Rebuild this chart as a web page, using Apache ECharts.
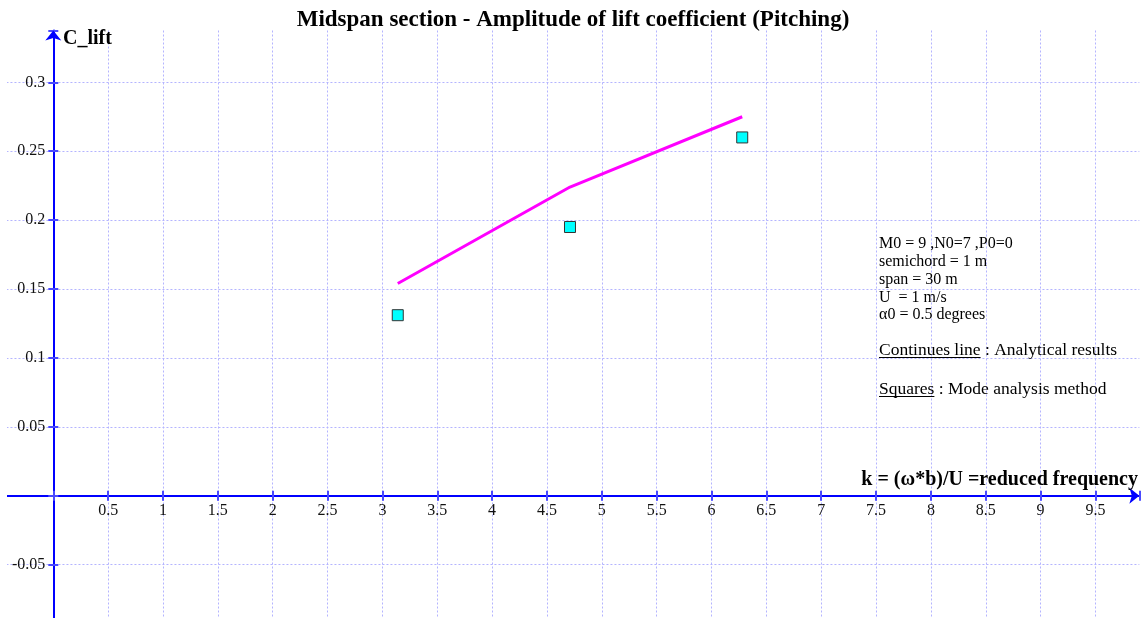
<!DOCTYPE html>
<html><head><meta charset="utf-8">
<script src="https://cdn.jsdelivr.net/npm/echarts@6/dist/echarts.min.js"></script>
<style>html,body{margin:0;padding:0;background:#fff}#c{width:1146px;height:618px}</style>
</head><body><div id="c"></div>
<script>
const titleText = 'Midspan section - Amplitude of lift coefficient (Pitching)';
const xName = 'k = (ω*b)/U =reduced frequency';
const yName = 'C_lift';
const lineK = [3.14, 4.71, 6.28];
const lineCl = [0.154, 0.224, 0.275];
const squareK = [3.14, 4.71, 6.28];
const squareCl = [0.131, 0.195, 0.26];
const infoLines = ['M0 = 9 ,N0=7 ,P0=0', 'semichord = 1 m', 'span = 30 m', 'U  = 1 m/s', 'α0 = 0.5 degrees'];
const legendLine = ['Continues line', ' : Analytical results'];
const legendSquare = ['Squares', ' : Mode analysis method'];

const SERIF = '"Liberation Serif", "Times New Roman", serif';
const chart = echarts.init(document.getElementById('c'), null, {renderer: 'canvas'});

const LEG_FONT = '17.5px ' + SERIF;
const ctx = document.createElement('canvas').getContext('2d');
ctx.font = LEG_FONT;
const wLine = ctx.measureText(legendLine[0]).width;
const wSq = ctx.measureText(legendSquare[0]).width;

const gridColor = '#b4b4ff';
const axisBlue = '#0000ff';
const tickBlue = '#4a4aff';

// grid geometry: x from -0.5 .. 9.9, y from -0.1 .. 0.3376
const G = {left: -1.55, top: 30.5, width: 1140.9, height: 603};
const X_OFF = -(G.top + G.height - 495.7);   // move x axis up to y = 0
const Y_OFF = -(53.3 - G.left);              // move y axis right to x = 0

const xBase = {type: 'value', min: -0.5, max: 9.9, interval: 0.5, gridIndex: 0, position: 'bottom', offset: X_OFF};
const yBase = {type: 'value', min: -0.1, max: 0.3376, interval: 0.05, gridIndex: 0, position: 'left', offset: Y_OFF};

const labelStyle = {fontFamily: SERIF, fontSize: 16, color: '#111'};

const graphics = [
  {type: 'rect', shape: {x: 0, y: 0, width: 7, height: 618}, style: {fill: '#fff'}, z: 10},
  {type: 'text', x: 63, y: 39, z: 20, style: {text: yName, font: 'bold 20px ' + SERIF, fill: '#000', verticalAlign: 'middle'}},
  {type: 'text', x: 1138, y: 480, z: 20, style: {text: xName, font: 'bold 20px ' + SERIF, fill: '#000', align: 'right', verticalAlign: 'middle'}}
];
const infoY = [244, 262, 280, 297.5, 315];
infoLines.forEach((t, i) => {
  graphics.push({type: 'text', x: 879, y: infoY[i], z: 20, style: {text: t, font: '16px ' + SERIF, fill: '#000', verticalAlign: 'middle'}});
});
[[legendLine, wLine, 350], [legendSquare, wSq, 389]].forEach(([parts, w, y]) => {
  graphics.push({type: 'text', x: 879, y: y, z: 20, style: {text: parts[0], font: LEG_FONT, fill: '#000', verticalAlign: 'middle'}});
  graphics.push({type: 'text', x: 879 + w, y: y, z: 20, style: {text: parts[1], font: LEG_FONT, fill: '#000', verticalAlign: 'middle'}});
  graphics.push({type: 'line', z: 20, shape: {x1: 879, y1: y + 7.5, x2: 879 + w, y2: y + 7.5}, style: {stroke: '#000', lineWidth: 1}});
});

const option = {
  animation: false,
  backgroundColor: '#fff',
  title: {text: titleText, left: 'center', top: 9, padding: 0,
    textStyle: {fontFamily: SERIF, fontSize: 23, fontWeight: 'bold', color: '#000'}},
  grid: Object.assign({outerBoundsMode: 'none', containLabel: false}, G),
  xAxis: [
    Object.assign({}, xBase, {
      axisLine: {onZero: false, symbol: ['none', 'arrow'], symbolSize: [12, 10], lineStyle: {color: axisBlue, width: 2}},
      axisTick: {show: true, inside: false, length: 5, lineStyle: {color: tickBlue, width: 2}},
      axisLabel: Object.assign({show: true, margin: 7,
        formatter: function (v) { return (v <= 0.01 || v > 9.6) ? '' : String(+v.toFixed(2)); }}, labelStyle),
      splitLine: {show: true, showMaxLine: false, lineStyle: {color: gridColor, width: 1, type: [2, 2]}}
    }),
    Object.assign({}, xBase, {
      axisLine: {show: false, onZero: false},
      axisTick: {show: true, inside: true, length: 5, lineStyle: {color: tickBlue, width: 2}},
      axisLabel: {show: false},
      splitLine: {show: false}
    })
  ],
  yAxis: [
    Object.assign({}, yBase, {
      axisLine: {onZero: false, symbol: ['none', 'arrow'], symbolSize: [12, 10], lineStyle: {color: axisBlue, width: 2}},
      axisTick: {show: true, inside: false, length: 5, lineStyle: {color: tickBlue, width: 2}},
      axisLabel: Object.assign({show: true, margin: 8,
        formatter: function (v) { return (Math.abs(v) < 1e-9 || v < -0.09 || v > 0.31) ? '' : String(+v.toFixed(2)); }}, labelStyle),
      splitLine: {show: true, showMaxLine: false, lineStyle: {color: gridColor, width: 1, type: [2, 2]}}
    }),
    Object.assign({}, yBase, {
      axisLine: {show: false, onZero: false},
      axisTick: {show: true, inside: true, length: 5, lineStyle: {color: tickBlue, width: 2}},
      axisLabel: {show: false},
      splitLine: {show: false}
    })
  ],
  series: [
    {type: 'line', xAxisIndex: 0, yAxisIndex: 0, showSymbol: false, symbol: 'none', z: 3,
      lineStyle: {color: '#ff00ff', width: 3}, itemStyle: {color: '#ff00ff'},
      data: lineK.map((k, i) => [k, lineCl[i]])},
    {type: 'scatter', xAxisIndex: 0, yAxisIndex: 0, symbol: 'rect', symbolSize: 11, z: 4,
      itemStyle: {color: '#00ffff', borderColor: '#333', borderWidth: 1, opacity: 1},
      data: squareK.map((k, i) => [k, squareCl[i]])}
  ],
  graphic: graphics
};
chart.setOption(option);
</script></body></html>
